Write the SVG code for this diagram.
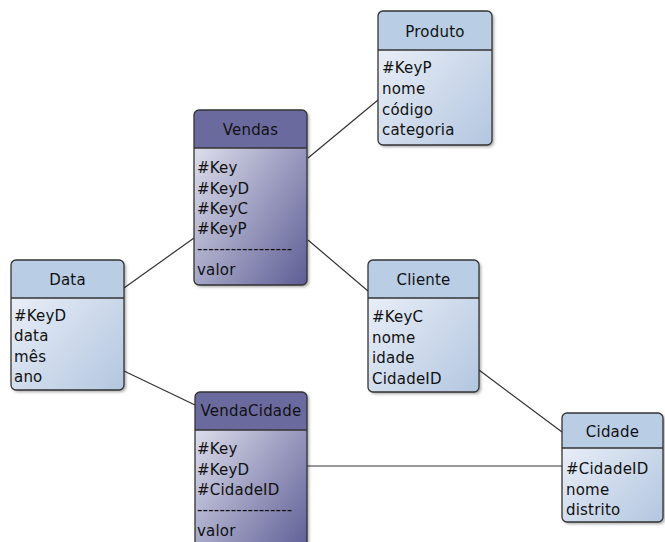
<svg xmlns="http://www.w3.org/2000/svg" width="665" height="542" viewBox="0 0 665 542">
<defs>
<style>
.t{font-family:"DejaVu Sans","Liberation Sans",sans-serif;font-size:15px;letter-spacing:0.2px;fill:#111;}
.ttl{text-anchor:middle;}
.bd{fill:none;stroke:#333;stroke-width:1.3;}
.dv{stroke:#333;stroke-width:1.3;}
.hl{fill:#b9cde5;}
.hd{fill:#6b6a9f;}
.ln{stroke:#333;stroke-width:1.2;fill:none;}
</style>
<linearGradient id="gl" x1="0" y1="0" x2="1" y2="1">
<stop offset="0" stop-color="#f2f5fb"/>
<stop offset="1" stop-color="#b3c6e0"/>
</linearGradient>
<linearGradient id="gd" x1="0" y1="0" x2="1" y2="1">
<stop offset="0" stop-color="#eceef6"/>
<stop offset="1" stop-color="#5e5d96"/>
</linearGradient>
<filter id="sh" x="-10%" y="-10%" width="130%" height="130%">
<feDropShadow dx="2" dy="2" stdDeviation="1.5" flood-color="#000" flood-opacity="0.35"/>
</filter>
</defs>
<rect width="665" height="542" fill="#fff"/>

<g id="connectors">
<line class="ln" x1="308" y1="158" x2="378" y2="100"/>
<line class="ln" x1="124" y1="288" x2="194" y2="238"/>
<line class="ln" x1="308" y1="240" x2="368" y2="291"/>
<line class="ln" x1="124" y1="371" x2="195" y2="405"/>
<line class="ln" x1="479" y1="370" x2="562" y2="432"/>
<line class="ln" x1="307" y1="466" x2="562" y2="466"/>
</g>

<g id="produto">
<rect x="378" y="11" width="114" height="134" rx="5" fill="url(#gl)" filter="url(#sh)"/>
<path class="hl" d="M383,11 H487 A5,5 0 0 1 492,16 V50 H378 V16 A5,5 0 0 1 383,11 Z"/>
<line class="dv" x1="378" y1="50" x2="492" y2="50"/>
<rect class="bd" x="378" y="11" width="114" height="134" rx="5"/>
<text class="t ttl" x="435" y="37">Produto</text>
<text class="t" x="382" y="73">#KeyP</text>
<text class="t" x="382" y="94">nome</text>
<text class="t" x="382" y="115">código</text>
<text class="t" x="382" y="135">categoria</text>
</g>

<g id="vendas">
<rect x="194" y="110" width="113" height="175" rx="5" fill="url(#gd)" filter="url(#sh)"/>
<path class="hd" d="M199,110 H302 A5,5 0 0 1 307,115 V148 H194 V115 A5,5 0 0 1 199,110 Z"/>
<line class="dv" x1="194" y1="148" x2="307" y2="148"/>
<rect class="bd" x="194" y="110" width="113" height="175" rx="5"/>
<text class="t ttl" x="250.5" y="135">Vendas</text>
<text class="t" x="197" y="173">#Key</text>
<text class="t" x="197" y="194">#KeyD</text>
<text class="t" x="197" y="214">#KeyC</text>
<text class="t" x="197" y="234">#KeyP</text>
<text class="t" x="197" y="254">-----------------</text>
<text class="t" x="197" y="275">valor</text>
</g>

<g id="data">
<rect x="11" y="260" width="113" height="130" rx="5" fill="url(#gl)" filter="url(#sh)"/>
<path class="hl" d="M16,260 H119 A5,5 0 0 1 124,265 V298 H11 V265 A5,5 0 0 1 16,260 Z"/>
<line class="dv" x1="11" y1="298" x2="124" y2="298"/>
<rect class="bd" x="11" y="260" width="113" height="130" rx="5"/>
<text class="t ttl" x="67.5" y="285">Data</text>
<text class="t" x="14" y="321">#KeyD</text>
<text class="t" x="14" y="341">data</text>
<text class="t" x="14" y="362">mês</text>
<text class="t" x="14" y="382">ano</text>
</g>

<g id="cliente">
<rect x="368" y="260" width="111" height="132" rx="5" fill="url(#gl)" filter="url(#sh)"/>
<path class="hl" d="M373,260 H474 A5,5 0 0 1 479,265 V298 H368 V265 A5,5 0 0 1 373,260 Z"/>
<line class="dv" x1="368" y1="298" x2="479" y2="298"/>
<rect class="bd" x="368" y="260" width="111" height="132" rx="5"/>
<text class="t ttl" x="423.5" y="285">Cliente</text>
<text class="t" x="372" y="322">#KeyC</text>
<text class="t" x="372" y="343">nome</text>
<text class="t" x="372" y="363">idade</text>
<text class="t" x="372" y="384">CidadeID</text>
</g>

<g id="vendacidade">
<rect x="195" y="392" width="112" height="160" rx="5" fill="url(#gd)" filter="url(#sh)"/>
<path class="hd" d="M200,392 H302 A5,5 0 0 1 307,397 V430 H195 V397 A5,5 0 0 1 200,392 Z"/>
<line class="dv" x1="195" y1="430" x2="307" y2="430"/>
<rect class="bd" x="195" y="392" width="112" height="160" rx="5"/>
<text class="t ttl" x="251" y="416">VendaCidade</text>
<text class="t" x="197" y="454">#Key</text>
<text class="t" x="197" y="475">#KeyD</text>
<text class="t" x="197" y="495">#CidadeID</text>
<text class="t" x="197" y="515">-----------------</text>
<text class="t" x="197" y="536">valor</text>
</g>

<g id="cidade">
<rect x="562" y="413" width="101" height="109" rx="5" fill="url(#gl)" filter="url(#sh)"/>
<path class="hl" d="M567,413 H658 A5,5 0 0 1 663,418 V448 H562 V418 A5,5 0 0 1 567,413 Z"/>
<line class="dv" x1="562" y1="448" x2="663" y2="448"/>
<rect class="bd" x="562" y="413" width="101" height="109" rx="5"/>
<text class="t ttl" x="612.5" y="437">Cidade</text>
<text class="t" x="566" y="474">#CidadeID</text>
<text class="t" x="566" y="495">nome</text>
<text class="t" x="566" y="515">distrito</text>
</g>
</svg>
